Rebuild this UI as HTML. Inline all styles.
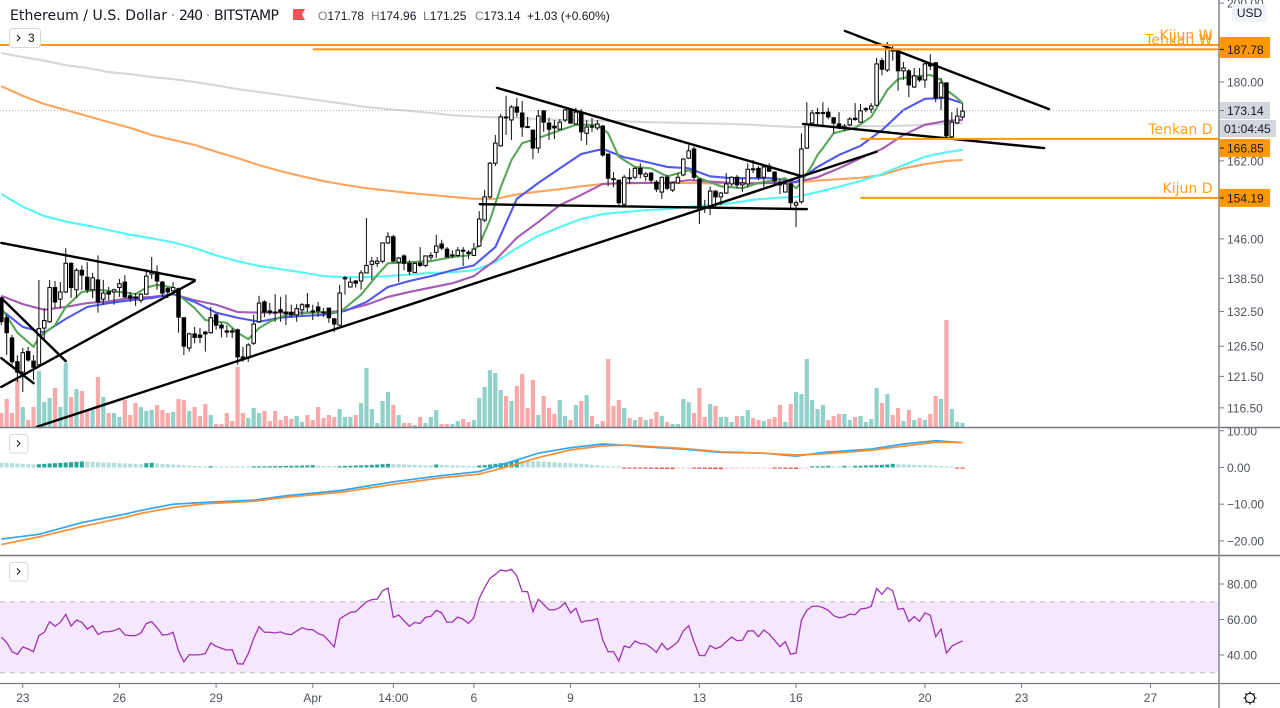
<!DOCTYPE html>
<html lang="en">
<head>
<meta charset="utf-8">
<title>Ethereum / U.S. Dollar chart</title>
<style>
html,body{margin:0;padding:0;background:#fff;width:1280px;height:708px;overflow:hidden}
svg{display:block}
text{font-family:"Liberation Sans",sans-serif}
</style>
</head>
<body>
<svg id="chart" xmlns="http://www.w3.org/2000/svg" width="1280" height="708" viewBox="0 0 1280 708">
  <defs>
    <clipPath id="main-clip"><rect x="0" y="0" width="1219" height="427"/></clipPath>
    <clipPath id="axis-clip"><rect x="1219" y="0" width="61" height="427"/></clipPath>
  </defs>
  <g id="volume-layer" clip-path="url(#main-clip)"></g>
  <g id="ma-layer" clip-path="url(#main-clip)"></g>
  <line x1="0" y1="110.5" x2="1219" y2="110.5" stroke="#b4b6cc" stroke-width="1" stroke-dasharray="1 2"/>
  <g id="candle-layer" clip-path="url(#main-clip)"></g>
  <g id="trend-layer" clip-path="url(#main-clip)"></g>
  <g id="level-layer"></g>
  <g id="macd-layer"></g>
  <g id="rsi-layer"></g>

  <line x1="0" y1="427.5" x2="1280" y2="427.5" stroke="#787b86" stroke-width="1.4"/>
  <line x1="0" y1="555.5" x2="1280" y2="555.5" stroke="#787b86" stroke-width="1.4"/>
  <line x1="0" y1="683.5" x2="1280" y2="683.5" stroke="#787b86" stroke-width="1.2"/>
  <line x1="1219" y1="0" x2="1219" y2="708" stroke="#8a8d96" stroke-width="1.6"/>

  <g id="axis-layer"></g>
  <g id="time-layer"></g>

  <g>
    <rect x="1220" y="102" width="50" height="17" fill="#d3d6dc"/>
    <line x1="1220" y1="110.5" x2="1224" y2="110.5" stroke="#787b86"/>
    <text x="1227" y="115" font-size="12" fill="#131722">173.14</text>
  </g>
  <g>
    <rect x="1220" y="120" width="56" height="17" fill="#d3d6dc"/>
    <text x="1224" y="133" font-size="12" fill="#131722">01:04:45</text>
  </g>
  <g>
    <rect x="1232" y="4" width="35" height="18" rx="3" fill="#f0f3fa"/>
    <text x="1249.5" y="17" font-size="12" fill="#131722" text-anchor="middle">USD</text>
  </g>

  <g>
    <text x="10" y="20" font-size="14" fill="#131722" style="font-family:'DejaVu Sans',sans-serif" textLength="157" lengthAdjust="spacing">Ethereum / U.S. Dollar</text>
    <circle cx="173" cy="15" r="1" fill="#9598a1"/>
    <text x="179" y="20" font-size="14" fill="#131722" style="font-family:'DejaVu Sans',sans-serif" textLength="24" lengthAdjust="spacing">240</text>
    <circle cx="208" cy="15" r="1" fill="#9598a1"/>
    <text x="214" y="20" font-size="14" fill="#131722" style="font-family:'DejaVu Sans',sans-serif" textLength="65" lengthAdjust="spacing">BITSTAMP</text>
    <polygon points="293,9 305,9 302,14.5 305,20 293,20" fill="#f55353"/>
    <text x="318" y="20" font-size="12" fill="#131722"><tspan fill="#787b86">O</tspan>171.78</text>
    <text x="371" y="20" font-size="12" fill="#131722"><tspan fill="#787b86">H</tspan>174.96</text>
    <text x="423" y="20" font-size="12" fill="#131722"><tspan fill="#787b86">L</tspan>171.25</text>
    <text x="475" y="20" font-size="12" fill="#131722"><tspan fill="#787b86">C</tspan>173.14</text>
    <text x="527" y="20" font-size="12" fill="#131722">+1.03 (+0.60%)</text>
  </g>

  <g>
    <rect x="9.5" y="28.5" width="31" height="19" rx="3" fill="#fff" stroke="#d6d8e0"/>
    <polyline points="17,35 20,38 17,41" fill="none" stroke="#131722" stroke-width="1"/>
    <text x="28" y="42" font-size="12" fill="#131722">3</text>
  </g>
  <g>
    <rect x="9.5" y="434.5" width="18.5" height="18.5" rx="3" fill="#fff" stroke="#d6d8e0"/>
    <polyline points="17,440.5 20,443.5 17,446.5" fill="none" stroke="#131722" stroke-width="1"/>
  </g>
  <g>
    <rect x="9.5" y="562.5" width="18.5" height="18.5" rx="3" fill="#fff" stroke="#d6d8e0"/>
    <polyline points="17,568.5 20,571.5 17,574.5" fill="none" stroke="#131722" stroke-width="1"/>
  </g>
  <g fill="none" stroke="#131722" stroke-width="1.2">
    <circle cx="1250" cy="698" r="4.6"/>
    <path d="M1250 691.5v2M1250 702.5v2M1243.5 698h2M1254.5 698h2M1245.4 693.4l1.4 1.4M1253.2 701.2l1.4 1.4M1245.4 702.6l1.4-1.4M1253.2 694.8l1.4-1.4"/>
  </g>
</svg>

<script>
const opens = [134.9,131.4,127.9,123.9,122.2,125.6,124.0,123.4,129.6,130.7,
136.8,134.7,136.0,141.3,136.4,140.0,138.7,136.4,138.2,134.7,
136.0,136.0,136.8,137.8,135.3,135.1,134.5,135.6,139.3,139.6,
137.8,136.6,136.2,136.6,131.4,126.2,128.6,128.4,128.9,128.8,
131.9,130.1,129.1,129.1,129.3,124.7,124.5,127.0,130.7,134.2,
132.6,132.4,132.8,132.4,132.3,131.9,132.8,133.7,132.6,133.3,
132.4,133.1,131.2,130.1,138.4,136.9,138.0,138.0,139.5,141.1,
141.3,141.7,145.2,146.4,141.5,142.7,141.3,139.6,141.3,140.9,
142.5,143.4,145.0,144.0,142.7,142.8,143.8,143.4,142.8,144.6,
149.7,154.4,161.5,165.3,171.8,171.1,174.1,172.7,169.6,168.8,
164.8,173.2,170.4,169.7,169.0,171.1,173.4,170.2,172.9,168.1,
169.7,169.3,169.7,163.5,158.2,157.9,152.9,158.4,158.5,160.4,
158.7,159.4,157.5,155.4,158.5,155.8,157.3,159.0,162.6,164.6,
158.1,152.4,152.3,155.6,154.4,155.2,157.1,158.5,156.9,157.1,
160.3,160.4,158.5,160.9,159.6,157.5,155.4,157.1,152.7,153.4,
164.8,170.4,172.6,172.6,172.9,171.6,170.2,169.3,170.0,171.5,
170.6,173.5,173.6,174.5,185.2,182.9,188.0,187.6,182.7,182.7,
178.8,181.2,180.5,184.4,184.7,176.4,179.8,167.3,170.4,171.78];

const highs = [134.9,131.9,128.4,125.0,126.2,126.4,125.0,138.2,133.1,138.2,
138.0,137.8,144.2,141.5,140.4,140.9,141.5,139.5,142.8,138.2,
136.9,136.6,138.4,139.1,136.0,135.8,135.8,140.0,142.5,140.9,
138.0,136.9,137.8,136.8,131.5,128.8,129.8,129.6,129.1,133.3,
132.3,130.5,130.1,129.6,129.5,126.4,127.0,131.9,135.3,134.5,
134.0,135.6,135.1,135.5,133.7,133.8,134.0,135.8,133.7,134.2,
133.1,133.1,131.4,137.3,138.9,138.6,138.2,140.0,150.1,142.5,
142.5,145.2,147.3,146.8,142.5,143.0,141.9,141.5,144.4,142.8,
143.4,146.8,145.8,144.4,143.8,144.4,144.4,143.8,145.2,151.5,
155.8,161.8,167.7,172.5,176.7,174.5,176.2,175.5,171.8,168.8,
173.4,173.4,171.6,171.1,171.3,173.6,173.4,173.9,173.6,171.1,
171.6,171.1,170.0,163.5,159.6,157.9,159.0,160.4,160.7,161.5,
159.6,159.6,157.9,158.7,159.0,157.5,159.4,162.6,165.5,165.1,
158.1,153.8,156.6,155.8,155.4,159.4,158.7,159.0,158.3,161.5,
162.2,160.9,160.9,161.5,159.8,158.1,157.7,157.5,153.6,168.1,
175.2,173.4,173.9,175.2,173.9,171.8,172.9,170.2,171.8,175.0,
174.8,174.1,175.0,185.9,185.9,189.9,189.1,187.8,184.9,183.1,
183.4,183.4,184.7,186.8,184.7,181.0,179.8,172.9,173.9,174.96];

const lows = [130.1,125.0,123.4,120.6,119.0,123.9,120.9,123.0,127.5,130.5,
133.1,133.1,135.8,134.9,134.9,136.4,135.8,134.9,132.3,133.7,
134.5,133.7,135.1,134.9,134.2,133.5,134.0,135.5,138.4,136.4,
135.1,134.9,135.5,128.8,125.0,125.6,127.0,127.0,125.6,128.6,
129.3,128.0,128.0,127.9,123.4,123.9,123.9,126.7,130.5,131.5,
131.9,130.7,130.7,130.1,131.4,130.7,131.9,132.4,131.0,131.5,
131.5,130.5,128.9,130.0,135.5,136.8,136.8,136.4,139.5,138.2,
140.6,141.3,145.0,141.5,137.8,140.0,139.1,139.5,140.6,140.6,
141.9,142.3,143.8,142.5,142.3,142.5,140.8,142.1,142.7,144.4,
149.3,154.0,160.9,165.1,167.7,166.6,171.8,167.3,169.3,162.4,
163.7,168.4,166.6,166.8,168.8,170.6,170.2,170.0,166.4,165.5,
168.4,168.8,162.9,156.6,156.4,152.3,152.3,157.1,158.1,158.3,
157.7,157.3,155.4,154.0,155.8,155.4,157.3,158.7,162.4,157.9,
148.9,151.1,150.7,152.3,152.7,155.0,156.6,156.2,155.4,156.4,
159.4,157.9,156.4,159.6,157.1,155.0,155.4,152.1,148.3,153.0,
164.6,170.2,170.2,170.0,171.3,168.1,169.0,168.6,169.7,170.9,
170.6,172.9,172.7,174.3,181.6,182.4,185.2,177.9,180.5,176.4,
178.6,180.0,178.6,182.9,175.2,173.4,167.0,167.0,170.2,171.25];

const closes = [130.7,128.8,123.9,122.2,125.4,124.2,123.0,129.5,130.9,136.8,
134.2,136.0,141.3,136.8,140.0,139.1,136.4,138.6,134.2,135.8,
135.6,136.4,137.5,135.1,134.9,134.9,135.6,138.9,139.6,138.0,
135.8,136.0,136.8,131.5,126.5,128.6,128.0,128.0,128.6,131.4,
130.1,129.6,128.9,128.9,124.7,124.4,126.7,130.3,134.0,132.4,
132.3,132.3,132.4,132.1,131.9,133.0,133.7,133.3,132.4,132.6,
132.3,131.4,130.3,135.8,138.6,137.8,137.6,139.5,140.9,141.7,
141.7,145.2,146.4,141.7,142.3,141.3,139.8,141.3,140.9,142.7,
142.8,144.6,144.2,142.5,142.9,143.8,143.6,143.2,144.0,149.9,
154.4,161.5,165.9,171.8,171.6,174.1,172.9,169.5,169.4,164.8,
172.0,170.6,169.0,169.3,170.6,173.4,170.4,172.9,168.4,169.5,
169.5,170.2,163.3,158.3,158.0,153.2,158.5,158.2,160.4,159.2,
159.2,157.9,156.0,158.5,156.2,157.3,158.5,162.4,164.2,158.5,
152.3,152.2,155.6,154.4,155.2,157.1,158.5,156.9,157.3,160.2,
160.1,158.5,160.7,159.8,157.7,156.9,157.1,153.2,153.2,164.6,
170.2,172.7,172.8,172.8,171.8,170.4,169.3,169.7,171.3,171.2,
173.2,173.7,174.3,184.4,183.1,188.3,187.6,182.7,183.4,179.3,
181.5,180.5,184.4,183.9,176.2,179.8,167.5,170.6,172.0,173.14];

const volumes = [14,28,14,47,20,7,20,56,25,29,
39,20,64,30,38,36,16,17,50,30,
14,14,10,27,12,24,20,16,17,22,
17,14,15,28,27,16,20,11,23,12,
3,3,14,6,60,14,9,19,14,16,
6,16,7,11,8,11,5,12,7,20,
9,12,10,18,10,10,12,24,59,18,
4,26,35,22,12,4,4,2,10,4,
10,17,3,3,3,6,8,5,7,29,
40,57,54,37,31,26,41,53,19,47,
12,31,19,13,27,11,7,22,26,32,
11,3,6,68,21,27,19,9,7,10,
7,8,15,11,5,3,3,28,25,14,
39,10,23,21,10,10,5,11,11,17,
9,7,6,8,10,22,5,23,35,33,
68,27,18,22,7,11,13,13,7,10,
11,5,8,39,24,33,12,19,6,17,
7,9,7,13,31,28,107,18,5,4];

const maBars = [0,4,8,12,16,20,24,28,32,36,40,44,48,52,56,60,64,68,72,76,80,84,88,92,96,100,104,108,112,116,120,124,128,132,136,140,144,148,152,156,160,164,168,172,176,179];

const sma200 = [187.1,186.1,185.2,184.1,183.4,182.4,181.9,181.2,180.7,180.0,179.2,178.3,177.6,176.9,176.2,175.5,174.8,174.1,173.6,173.2,172.7,172.2,171.9,171.7,171.6,171.3,171.1,171.0,170.9,170.8,170.6,170.5,170.4,170.3,170.2,170.0,169.7,169.5,169.6,169.6,169.7,169.7,169.8,170.0,170.2,170.4];

const ema200 = [179.0,176.7,174.8,173.4,172.0,170.6,169.3,167.7,166.6,165.5,164.0,162.6,161.1,159.8,158.7,157.7,156.9,156.2,155.7,155.2,154.8,154.4,154.0,154.0,154.9,155.5,156.0,156.6,157.1,157.2,157.3,157.3,157.3,157.2,157.3,157.3,157.3,157.4,157.8,158.1,158.4,159.0,160.4,161.3,162.0,162.2];

const ema100 = [155.0,152.4,150.5,149.4,148.6,147.7,146.8,146.1,145.3,144.2,142.8,141.7,140.8,140.2,139.6,138.9,138.7,138.7,138.9,139.2,139.5,139.6,140.0,141.5,144.2,146.6,148.3,149.9,150.9,151.3,151.7,151.9,152.4,152.7,153.1,153.8,154.2,154.4,155.4,156.5,157.7,159.2,161.1,162.9,163.9,164.4];

const ema50 = [135.3,133.8,132.8,133.3,134.0,134.3,134.9,135.1,135.6,134.5,133.7,132.4,132.3,132.3,132.3,132.3,132.7,133.7,135.1,136.0,136.8,137.6,138.9,141.9,146.2,149.3,152.7,154.8,157.1,157.3,157.3,157.3,157.9,157.6,157.3,157.2,157.3,157.5,158.5,160.4,162.6,164.6,167.7,170.0,170.9,171.1];

const ema21 = [132.8,129.8,128.8,131.2,133.3,134.0,134.5,134.9,135.6,134.2,132.3,131.4,130.7,131.4,131.7,131.9,132.6,134.2,136.9,138.0,138.9,140.0,140.9,144.4,154.0,157.3,160.4,163.5,164.6,162.8,161.8,160.7,160.4,158.7,158.3,158.3,158.3,157.5,160.7,163.3,165.3,168.8,173.4,176.0,176.2,175.0];

const ema9Bars = [0,3,6,7,10,12,15,18,22,25,27,29,32,33,36,38,42,44,46,48,50,53,59,63,67,70,72,80,84,87,89,91,93,95,97,100,102,107,111,113,115,118,121,124,128,130,134,138,141,146,148,149,151,152,153,155,159,162,165,167,169,173,175,176,178,179];

const ema9 = [133.1,128.8,126.4,128.0,130.1,133.3,136.0,136.4,136.0,135.6,136.8,137.3,136.8,135.5,133.1,131.0,130.5,128.8,127.7,129.6,130.7,131.9,132.4,132.3,135.5,139.1,141.3,141.7,142.5,142.8,144.8,149.7,156.4,162.2,165.9,167.0,167.9,170.0,170.0,168.1,162.9,160.7,160.4,158.7,160.0,158.3,156.6,156.2,157.3,158.3,156.2,157.5,161.1,163.3,164.8,168.1,169.3,171.8,178.1,180.7,181.2,181.7,180.5,178.1,176.2,175.0];

const trendFromBars = [0,0,0,0,6.65,92.3,89.1,157.1,149.3];
const trendFromPrices = [145.2,119.8,134.9,124.5,113.6,178.6,152.9,192.7,170.2];
const trendToBars = [36,36,12,6,163,149.1,150,195.1,194.2];
const trendToPrices = [138.2,138.0,124.0,120.4,164.0,158.7,151.9,173.6,164.8];

const levelNames = ['Kijun W','Tenkan W','Tenkan D','Kijun D'];
const levelPrices = [189.1,188.0,166.85,154.19];
const levelStartBars = [0,58,160,160];

const priceTicks = [200,180,162,146,138.5,132.5,126.5,121.5,116.5];
const priceBadgeLabels = ['187.78','166.85','154.19'];
const priceBadgePrices = [188.0,164.8,154.19];

const macdBars = [0,7,15,23,26,32,38,47,53,63,73,82,89,95,100,106,112,117,119,127,134,142,148,153,162,168,174,179];
const macdLine = [-19.5,-18.2,-15.0,-12.7,-11.7,-10.0,-9.5,-8.9,-7.7,-6.3,-3.9,-2.2,-1.1,1.6,3.9,5.4,6.4,6.0,5.7,5.0,4.1,3.9,3.1,4.1,5.0,6.4,7.3,6.8];
const macdSignal = [-21.0,-18.9,-16.1,-13.6,-12.5,-10.9,-9.9,-9.2,-8.1,-6.8,-4.6,-2.8,-1.8,0.5,2.7,4.8,5.9,6.1,5.9,5.2,4.3,3.9,3.4,3.7,4.7,5.8,6.9,6.8];
const macdHist = [1.30,1.27,1.20,1.10,1.00,0.90,0.82,
0.90,1.00,1.10,1.18,1.27,1.36,1.45,1.55,1.64,
1.58,1.53,1.46,1.38,1.30,1.25,1.18,1.12,1.06,1.00,0.92,
1.18,1.27,
1.10,1.00,0.92,0.82,0.73,0.64,0.55,0.46,0.36,0.20,
0.36,
0.30,0.26,0.22,0.18,0.14,0.10,0.08,
0.27,0.29,0.31,0.36,0.38,0.40,0.45,0.47,0.50,0.55,0.58,0.64,
0.50,0.40,0.36,0.30,
0.36,0.45,0.48,0.55,0.58,0.64,0.73,0.82,0.91,1.00,
0.95,0.90,0.82,0.75,0.70,0.65,0.60,0.55,
0.82,
0.70,0.64,0.58,0.54,0.48,0.42,0.36,
0.55,0.64,0.82,1.00,1.18,1.36,1.64,1.91,
1.85,1.80,1.72,1.65,1.58,1.50,1.42,1.35,1.27,1.18,1.09,1.00,0.91,0.73,0.64,0.45,0.27,
0.18,0.09,
-0.18,-0.27,-0.30,
-0.32,-0.34,-0.36,-0.38,-0.40,-0.42,-0.45,
-0.30,-0.25,-0.22,
-0.27,-0.36,-0.38,-0.42,-0.45,-0.48,
-0.40,-0.36,-0.30,-0.28,-0.26,-0.24,-0.20,-0.18,-0.16,
-0.27,-0.30,-0.36,-0.38,-0.40,
-0.20,-0.08,
0.27,0.30,0.36,0.45,
0.30,0.27,
0.45,
0.36,
0.45,0.48,0.55,0.58,0.64,0.73,0.82,1.00,
0.91,0.85,0.80,0.73,0.68,0.62,0.55,0.45,0.36,0.27,0.18,
-0.18,-0.27];
const macdTicks = [10,0,-10,-20];

const rsiValues = [50.0,47.1,41.9,40.4,44.5,43.4,41.9,50.9,52.8,58.8,
56.2,58.4,62.9,56.3,59.7,58.4,54.6,56.5,51.6,53.1,
53.1,53.7,55.0,51.3,50.9,50.9,52.4,57.7,58.8,55.4,
51.3,51.5,52.8,42.3,36.1,40.2,40.0,40.2,40.8,46.8,
44.9,43.8,42.8,43.0,35.1,34.9,40.8,49.4,56.0,52.8,
52.8,52.4,53.0,51.8,51.5,53.5,55.4,54.3,54.3,52.0,
51.1,47.9,44.5,60.3,62.2,64.0,64.4,67.2,70.0,71.2,
71.5,76.2,77.7,61.2,62.5,59.3,56.2,58.4,57.7,61.2,
61.8,65.2,63.8,58.4,58.6,61.4,60.1,57.8,61.0,71.9,
77.9,83.2,85.4,87.9,87.3,88.3,84.5,75.7,75.7,64.4,
71.4,68.5,65.4,65.4,66.7,69.5,63.7,66.3,58.4,59.3,
59.5,60.5,48.5,41.9,41.9,36.6,45.1,44.1,47.9,46.4,
46.2,44.1,41.5,46.6,43.0,44.9,47.5,53.5,56.5,47.5,
39.8,39.6,45.3,43.6,44.7,47.5,50.1,48.1,48.3,53.5,
53.7,50.3,54.1,51.8,48.3,44.7,47.5,40.4,41.1,59.7,
65.2,67.4,67.6,66.7,65.2,62.2,61.0,61.4,63.1,62.7,
65.9,66.3,67.4,77.6,74.2,77.9,76.2,65.7,66.3,58.8,
61.6,59.0,63.7,62.5,50.3,54.6,41.1,44.9,46.6,47.9];
const rsiTicks = [80,60,40];
const rsiBandLevels = [70,30];

const timeTickBars = [4,22,40,58,73,88,106,130,148,172,190,214];
const timeTickLabels = ['23','26','29','Apr','14:00','6','9','13','16','20','23','27'];

const NS = 'http://www.w3.org/2000/svg';
function make(tag, attrs, parent) {
  const el = document.createElementNS(NS, tag);
  for (const k in attrs) el.setAttribute(k, attrs[k]);
  parent.appendChild(el);
  return el;
}
function xOf(bar) { return 1.3 + 5.37 * bar; }
function yPrice(p) { return 82 - 749 * Math.log(p / 180); }
function yVolume(v) { return 427 - v; }
function yMacd(v) { return 467.5 - 3.67 * v; }
function yRsi(v) { return 655 - (v - 40) * 1.775; }
function pathFrom(bars, values, yFn) {
  return bars.map((b, i) => (i ? 'L' : 'M') + xOf(b).toFixed(2) + ' ' + yFn(values[i]).toFixed(2)).join(' ');
}

const volumeLayer = document.getElementById('volume-layer');
const maLayer = document.getElementById('ma-layer');
const candleLayer = document.getElementById('candle-layer');
const trendLayer = document.getElementById('trend-layer');
const levelLayer = document.getElementById('level-layer');
const macdLayer = document.getElementById('macd-layer');
const rsiLayer = document.getElementById('rsi-layer');
const axisLayer = document.getElementById('axis-layer');
const timeLayer = document.getElementById('time-layer');

volumes.forEach((v, i) => {
  const bar = make('rect', {
    x: (xOf(i) - 2.1).toFixed(2), y: yVolume(v), width: 4.2, height: 427 - yVolume(v),
    fill: closes[i] >= opens[i] ? '#90d2ca' : '#f9a9a9'
  }, volumeLayer);
  
  
});

const maGray = make('path', { d: pathFrom(maBars, sma200, yPrice), fill: 'none', stroke: '#d6d6d6', 'stroke-width': 2.1 }, maLayer);


const maOrange = make('path', { d: pathFrom(maBars, ema200, yPrice), fill: 'none', stroke: '#ffa45c', 'stroke-width': 2.1 }, maLayer);


const maCyan = make('path', { d: pathFrom(maBars, ema100, yPrice), fill: 'none', stroke: '#55f6f6', 'stroke-width': 2.1 }, maLayer);


const maPurple = make('path', { d: pathFrom(maBars, ema50, yPrice), fill: 'none', stroke: '#a45bb3', 'stroke-width': 2.1 }, maLayer);


const maBlue = make('path', { d: pathFrom(maBars, ema21, yPrice), fill: 'none', stroke: '#5158f2', 'stroke-width': 2.1 }, maLayer);


const maGreen = make('path', { d: pathFrom(ema9Bars, ema9, yPrice), fill: 'none', stroke: '#58a758', 'stroke-width': 2.1 }, maLayer);



opens.forEach((o, i) => {
  const c = closes[i];
  const cx = xOf(i);
  const top = yPrice(Math.max(o, c));
  const bottom = yPrice(Math.min(o, c));
  const wick = make('line', { x1: cx, x2: cx, y1: yPrice(highs[i]), y2: yPrice(lows[i]), stroke: '#222', 'stroke-width': 1.1 }, candleLayer);
  
  
  const body = make('rect', {
    x: cx - 1.75, y: top, width: 3.5, height: Math.max(bottom - top, 1),
    fill: c >= o ? '#fff' : '#000', stroke: '#000', 'stroke-width': 1
  }, candleLayer);
  
  
});

trendFromBars.forEach((b, i) => {
  const line = make('line', {
    x1: xOf(b), y1: yPrice(trendFromPrices[i]), x2: xOf(trendToBars[i]), y2: yPrice(trendToPrices[i]),
    stroke: '#000', 'stroke-width': 2.4, 'stroke-linecap': 'round'
  }, trendLayer);
  
  
});

levelNames.forEach((name, i) => {
  const y = yPrice(levelPrices[i]);
  const line = make('line', {
    x1: levelStartBars[i] === 0 ? 0 : xOf(levelStartBars[i]), y1: y, x2: 1219, y2: y,
    stroke: '#ff9800', 'stroke-width': 2
  }, levelLayer);
  
  
  const label = make('text', {
    x: 1212.5, y: y - 5, 'font-size': 14, fill: '#ff9f1a', 'text-anchor': 'end',
    style: "font-family:'DejaVu Sans',sans-serif"
  }, levelLayer);
  
  
  label.textContent = name;
});

/* price axis */
const priceClip = make('g', { 'clip-path': 'url(#axis-clip)' }, axisLayer);


priceTicks.forEach(p => {
  const y = yPrice(p);
  const tick = make('line', { x1: 1219, x2: 1224, y1: y, y2: y, stroke: '#787b86' }, priceClip);
  
  
  const label = make('text', { x: 1227, y: y + 4.5, 'font-size': 12, fill: '#4c525e' }, priceClip);
  
  
  label.textContent = p.toFixed(2);
});
priceBadgeLabels.forEach((text, i) => {
  const y = yPrice(priceBadgePrices[i]);
  const tall = i === 0;
  const box = make('rect', { x: 1219.5, y: tall ? 37 : y - 9, width: 50.5, height: tall ? 21 : 18, fill: '#ff9800' }, axisLayer);
  
  
  const tick = make('line', { x1: 1220, x2: 1224, y1: y, y2: y, stroke: '#131722' }, axisLayer);
  
  
  const label = make('text', { x: 1227, y: y + 4.5, 'font-size': 12, fill: '#131722' }, axisLayer);
  
  
  label.textContent = text;
});

/* macd pane */
macdHist.forEach((h, i) => {
  const prev = i ? macdHist[i - 1] : h;
  let fill;
  if (h >= 0) fill = h > prev ? '#26a69a' : '#b2dfdb';
  else fill = h < prev ? '#ef5350' : '#ffcdd2';
  const zero = yMacd(0);
  const size = Math.max(Math.abs(h) * 3.67, 1.2);
  const bar = make('rect', { x: xOf(i) - 2, y: h >= 0 ? zero - size : zero, width: 4, height: size, fill: fill }, macdLayer);
  
  
});
const macdPath = make('path', { d: pathFrom(macdBars, macdLine, yMacd), fill: 'none', stroke: '#33a5f5', 'stroke-width': 1.7 }, macdLayer);


const signalPath = make('path', { d: pathFrom(macdBars, macdSignal, yMacd), fill: 'none', stroke: '#ff8f33', 'stroke-width': 1.7 }, macdLayer);


macdTicks.forEach(v => {
  const y = yMacd(v);
  const tick = make('line', { x1: 1219, x2: 1224, y1: y, y2: y, stroke: '#787b86' }, macdLayer);
  
  
  const label = make('text', { x: 1227, y: y + 4.5, 'font-size': 12, fill: '#4c525e' }, macdLayer);
  
  
  label.textContent = (v < 0 ? '\u2212' : '') + Math.abs(v).toFixed(2);
});

/* rsi pane */
const bandTop = yRsi(rsiBandLevels[0]);
const bandBottom = yRsi(rsiBandLevels[1]);
const band = make('rect', { x: 0, y: bandTop, width: 1219, height: bandBottom - bandTop, fill: '#f5e7fd' }, rsiLayer);


rsiBandLevels.forEach(level => {
  const guide = make('line', { x1: 0, x2: 1219, y1: yRsi(level), y2: yRsi(level), stroke: '#c6c4ca', 'stroke-width': 1.2, 'stroke-dasharray': '5 5' }, rsiLayer);
  
  
});
const rsiPath = make('path', { d: pathFrom(rsiValues.map((v, i) => i), rsiValues, yRsi), fill: 'none', stroke: '#a033b5', 'stroke-width': 1.3 }, rsiLayer);


rsiTicks.forEach(v => {
  const y = yRsi(v);
  const tick = make('line', { x1: 1219, x2: 1224, y1: y, y2: y, stroke: '#787b86' }, rsiLayer);
  
  
  const label = make('text', { x: 1227, y: y + 4.5, 'font-size': 12, fill: '#4c525e' }, rsiLayer);
  
  
  label.textContent = v.toFixed(2);
});

/* time axis */
timeTickBars.forEach((b, i) => {
  const x = xOf(b);
  const tick = make('line', { x1: x, x2: x, y1: 684, y2: 688, stroke: '#787b86' }, timeLayer);
  
  
  const label = make('text', { x: x, y: 702, 'font-size': 12, fill: '#4c525e', 'text-anchor': 'middle' }, timeLayer);
  
  
  label.textContent = timeTickLabels[i];
});
</script>
</body>
</html>
